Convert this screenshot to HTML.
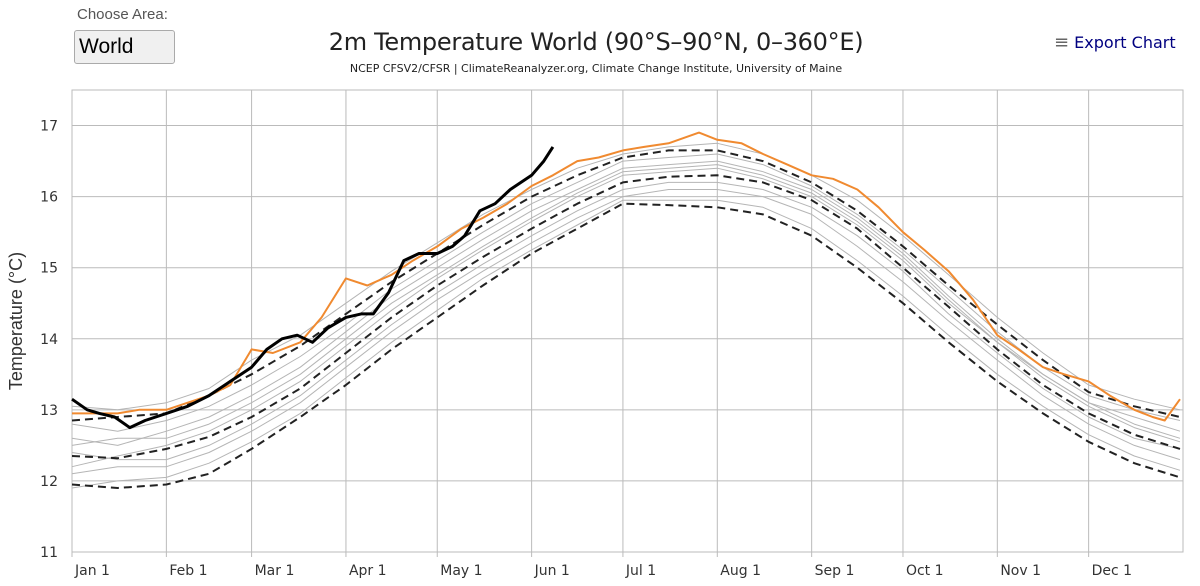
<!DOCTYPE html>
<html><head><meta charset="utf-8"><style>
body{margin:0;width:1200px;height:586px;background:#fff;overflow:hidden;font-family:"Liberation Sans",sans-serif;position:relative}
.abs{position:absolute}
</style></head><body>
<div class="abs" style="left:77px;top:6px;font-size:15px;color:#555">Choose Area:</div>
<div class="abs" style="left:74px;top:30px;height:34px;border:1px solid #aaa;border-radius:3px;background:#f0f0f0;font-size:21px;line-height:32px;padding-left:4px;box-sizing:border-box;width:101px">World</div>
<div class="abs" style="left:0;width:1192px;top:28px;text-align:center;font-size:24px;color:#222;font-family:'DejaVu Sans',sans-serif;letter-spacing:-0.3px">2m Temperature World (90°S–90°N, 0–360°E)</div>
<div class="abs" style="left:0;width:1192px;top:62px;text-align:center;font-size:11px;color:#222;font-family:'DejaVu Sans',sans-serif">NCEP CFSV2/CFSR | ClimateReanalyzer.org, Climate Change Institute, University of Maine</div>
<div class="abs" style="left:1054px;top:32px;font-size:16px;color:#000080;font-family:'DejaVu Sans',sans-serif"><span style="color:#666;font-size:18px">≡</span> Export Chart</div>
<svg class="abs" style="left:0;top:0" width="1200" height="586" id="chart"></svg>
<script>
const tickVals=[11,12,13,14,15,16,17];
const monthLabels=["Jan 1","Feb 1","Mar 1","Apr 1","May 1","Jun 1","Jul 1","Aug 1","Sep 1","Oct 1","Nov 1","Dec 1"];
const monthDays=[0,31,59,90,120,151,181,212,243,273,304,334];
const climDays=[0,15,31,45,59,75,90,105,120,135,151,166,181,196,212,227,243,258,273,288,304,319,334,349,364];
const meanVals=[12.35,12.32,12.45,12.62,12.9,13.3,13.8,14.3,14.75,15.15,15.55,15.9,16.2,16.28,16.3,16.2,15.95,15.55,15.0,14.45,13.85,13.35,12.95,12.65,12.45];
const upperVals=[12.85,12.9,12.95,13.2,13.5,13.9,14.35,14.8,15.2,15.6,16.0,16.3,16.55,16.65,16.65,16.5,16.2,15.8,15.3,14.75,14.2,13.7,13.25,13.05,12.9];
const lowerVals=[11.95,11.9,11.95,12.1,12.45,12.9,13.35,13.85,14.3,14.75,15.2,15.55,15.9,15.88,15.85,15.75,15.45,15.0,14.5,13.95,13.4,12.95,12.55,12.25,12.05];
const gray1=[12.6,12.5,12.7,12.9,13.2,13.6,14.1,14.6,15.0,15.4,15.8,16.1,16.4,16.45,16.5,16.35,16.1,15.7,15.2,14.6,14.0,13.5,13.1,12.9,12.7];
const gray2=[12.1,12.2,12.2,12.4,12.7,13.1,13.6,14.1,14.55,14.95,15.35,15.7,16.0,16.1,16.1,16.0,15.75,15.3,14.8,14.25,13.7,13.2,12.8,12.5,12.3];
const gray3=[12.8,12.7,12.85,13.05,13.35,13.75,14.2,14.7,15.1,15.5,15.9,16.2,16.5,16.55,16.6,16.45,16.15,15.75,15.25,14.7,14.1,13.6,13.2,13.0,12.85];
const gray4=[12.4,12.3,12.3,12.5,12.8,13.2,13.7,14.2,14.65,15.05,15.45,15.8,16.1,16.2,16.2,16.1,15.85,15.45,14.95,14.35,13.8,13.3,12.9,12.6,12.45];
const gray5=[12.2,12.35,12.5,12.7,13.0,13.4,13.9,14.4,14.85,15.25,15.65,16.0,16.3,16.35,16.4,16.25,16.0,15.6,15.1,14.5,13.95,13.45,13.05,12.75,12.55];
const gray6=[13.05,13.0,13.1,13.3,13.7,14.05,14.5,14.95,15.35,15.75,16.1,16.4,16.6,16.7,16.75,16.6,16.3,15.95,15.45,14.9,14.3,13.8,13.35,13.15,13.0];
const gray7=[11.9,12.0,12.05,12.25,12.55,12.95,13.45,13.95,14.4,14.85,15.25,15.6,15.95,15.95,15.95,15.85,15.55,15.1,14.6,14.05,13.5,13.05,12.65,12.35,12.15];
const gray8=[12.5,12.6,12.6,12.8,13.1,13.5,14.0,14.5,14.9,15.3,15.7,16.05,16.35,16.4,16.45,16.3,16.05,15.65,15.15,14.55,13.95,13.5,13.1,12.8,12.6];
const y23Days=[0,8,15,22,31,38,45,52,59,66,75,82,90,97,105,112,120,128,135,143,151,158,166,173,181,188,196,206,212,220,227,235,243,250,258,265,273,280,288,296,304,311,319,326,334,341,349,355,359,364];
const y23Vals=[12.95,12.95,12.95,13.0,13.0,13.1,13.2,13.35,13.85,13.8,13.95,14.3,14.85,14.75,14.9,15.1,15.3,15.55,15.7,15.9,16.15,16.3,16.5,16.55,16.65,16.7,16.75,16.9,16.8,16.75,16.6,16.45,16.3,16.25,16.1,15.85,15.5,15.25,14.95,14.55,14.05,13.85,13.6,13.5,13.4,13.2,13.0,12.9,12.85,13.15];
const y24Days=[0,5,9,14,19,24,31,38,45,52,59,64,69,74,79,84,90,95,99,104,109,114,120,125,129,134,139,144,151,155,158];
const y24Vals=[13.15,13.0,12.95,12.9,12.75,12.85,12.95,13.05,13.2,13.4,13.6,13.85,14.0,14.05,13.95,14.15,14.3,14.35,14.35,14.65,15.1,15.2,15.2,15.3,15.45,15.8,15.9,16.1,16.3,16.5,16.7];

const svg=document.getElementById('chart');const NS='http://www.w3.org/2000/svg';
const X0=72,X1=1183,YT=90,YB=552;
const xs=d=>X0+d*(X1-X0)/365;
const ys=v=>YB-(v-11)*(YB-YT)/6.5;
function mk(tag,attrs){const e=document.createElementNS(NS,tag);for(const k in attrs)e.setAttribute(k,attrs[k]);svg.appendChild(e);return e;}
let r=mk('rect',{x:X0,y:YT,width:X1-X0,height:YB-YT,fill:'none',stroke:'#bbb'});


tickVals.forEach(v=>{
 const l=mk('line',{x1:X0,x2:X1,y1:ys(v),y2:ys(v),stroke:'#bbb'});
 
 
 const t=mk('text',{x:58,y:ys(v)+5,'text-anchor':'end','font-size':14,fill:'#333','font-family':'DejaVu Sans,sans-serif'});t.textContent=v;
 
 
});
monthDays.forEach((d,i)=>{
 const l=mk('line',{x1:xs(d),x2:xs(d),y1:YT,y2:YB+5,stroke:'#bbb'});
 
 
 const t=mk('text',{x:xs(d)+3,y:575,'font-size':14,fill:'#333','font-family':'DejaVu Sans,sans-serif'});t.textContent=monthLabels[i];
 
 
});
const yt=mk('text',{x:22,y:321,'text-anchor':'middle','font-size':18,fill:'#333',transform:'rotate(-90 22 321)'});yt.textContent='Temperature (°C)';


function line(days,vals,attrs,name){
 const d=days.map((x,i)=>(i?'L':'M')+xs(x).toFixed(1)+','+ys(vals[i]).toFixed(1)).join('');
 const p=mk('path',Object.assign({d,fill:'none','stroke-linejoin':'round'},attrs));
 
 
}
[gray1,gray2,gray3,gray4,gray5,gray6,gray7,gray8].forEach(g=>line(climDays,g,{stroke:'#b5b5b5','stroke-width':1},'climatology-year-line'));
line(climDays,upperVals,{stroke:'#222','stroke-width':2,'stroke-dasharray':'8,5'},'plus-2-sigma-line');
line(climDays,meanVals,{stroke:'#222','stroke-width':2,'stroke-dasharray':'8,5'},'mean-line');
line(climDays,lowerVals,{stroke:'#222','stroke-width':2,'stroke-dasharray':'8,5'},'minus-2-sigma-line');
line(y23Days,y23Vals,{stroke:'#f08a30','stroke-width':2},'year-2023-line');
line(y24Days,y24Vals,{stroke:'#000','stroke-width':3},'year-2024-line');
</script>
</body></html>
